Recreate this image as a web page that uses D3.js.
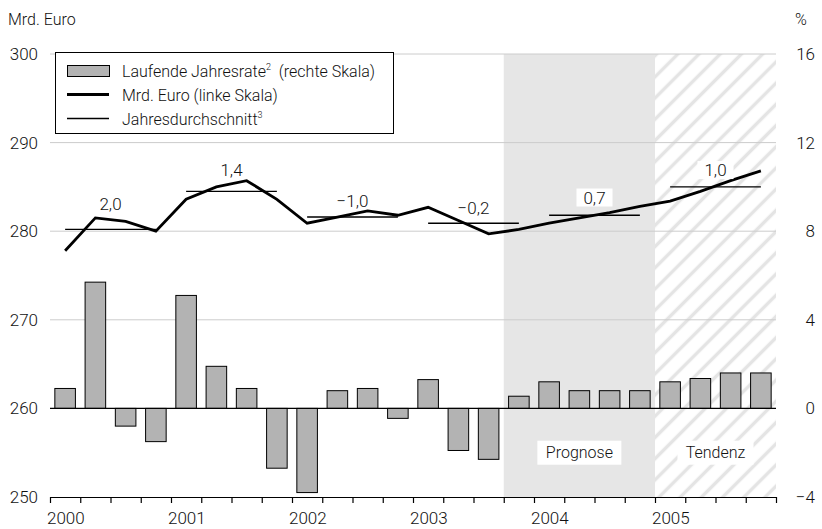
<!DOCTYPE html>
<html>
<head>
<meta charset="utf-8">
<script src="https://cdn.jsdelivr.net/npm/d3@7"></script>
<style>
  body { margin: 0; background: #fff; }
  svg text { font-family: Roboto, "Noto Sans", sans-serif; font-weight: 300; fill: #111; }
</style>
</head>
<body>
<svg width="822" height="529"></svg>
<script>
"use strict";

// Quartale 2000 bis 2005
const years = [2000, 2001, 2002, 2003, 2004, 2005];
const quarters = years.flatMap(y => [1, 2, 3, 4].map(q => `${y}Q${q}`));

// laufende Jahresrate in % (rechte Skala)
const rate = [0.9, 5.7, -0.8, -1.5,
              5.1, 1.9, 0.9, -2.7,
              -3.8, 0.8, 0.9, -0.45,
              1.3, -1.9, -2.3, 0.55,
              1.2, 0.8, 0.8, 0.8,
              1.2, 1.35, 1.6, 1.6];

// Mrd. Euro (linke Skala)
const level = [277.8, 281.5, 281.1, 280.0,
               283.6, 285.0, 285.7, 283.6,
               280.9, 281.6, 282.3, 281.8,
               282.7, 281.2, 279.7, 280.2,
               280.9, 281.5, 282.1, 282.8,
               283.4, 284.5, 285.7, 286.8];

// Jahresdurchschnitt und Veraenderung
const yearAvg = [280.2, 284.5, 281.6, 280.9, 281.8, 285.0];
const yearChange = ['2,0', '1,4', '\u22121,0', '\u22120,2', '0,7', '1,0'];
const labelLevel = [283.05, 286.9, 283.4, 282.6, 283.8, 286.9];

const leftTicks = [250, 260, 270, 280, 290, 300];
const rightTicks = [-4, 0, 4, 8, 12, 16];

const svg = d3.select('svg');
const plotLeft = 50, plotRight = 776, plotTop = 54, plotBottom = 497;

const x = d3.scaleLinear().domain([0, quarters.length]).range([plotLeft, plotRight]);
const yL = d3.scaleLinear().domain([250, 300]).range([plotBottom, plotTop]);
const yR = d3.scaleLinear().domain([-4, 16]).range([plotBottom, plotTop]);
const step = x(1) - x(0);

const defs = svg.append('defs');
defs.append('pattern')
    .attr('id', 'hatch')
    .attr('patternUnits', 'userSpaceOnUse')
    .attr('width', 15).attr('height', 15)
    .attr('patternTransform', 'rotate(45)')
    .append('line')
    .attr('x1', 7.5).attr('x2', 7.5).attr('y1', 0).attr('y2', 15)
    .attr('stroke', '#e4e4e4').attr('stroke-width', 3.5);

// Prognose / Tendenz Hintergrund
const progStart = quarters.indexOf('2003Q4');
const tendStart = quarters.indexOf('2005Q1');
svg.append('rect')
    .attr('x', x(progStart)).attr('y', plotTop)
    .attr('width', x(tendStart) - x(progStart)).attr('height', plotBottom - plotTop)
    .attr('fill', '#e6e6e6');
svg.append('rect')
    .attr('x', x(tendStart)).attr('y', plotTop)
    .attr('width', x(quarters.length) - x(tendStart)).attr('height', plotBottom - plotTop)
    .attr('fill', 'url(#hatch)');

// Gitterlinien
svg.append('g')
    .selectAll('line')
    .data(leftTicks.filter(d => d > 260))
    .join('line')
    .attr('x1', plotLeft).attr('x2', plotRight)
    .attr('y1', d => yL(d)).attr('y2', d => yL(d))
    .attr('stroke', '#cccccc').attr('stroke-width', 1);

// Achsen
const axisLeft = svg.append('g')
    .attr('transform', `translate(${plotLeft},0)`)
    .call(d3.axisLeft(yL).tickValues(leftTicks).tickSize(0).tickPadding(12));
axisLeft.select('.domain').remove();
axisLeft.selectAll('text').attr('font-size', 17);

const axisRight = svg.append('g')
    .attr('transform', `translate(${plotRight},0)`)
    .call(d3.axisRight(yR).tickValues(rightTicks).tickSize(0)
        .tickFormat(d => d < 0 ? '\u2212' + Math.abs(d) : d));
axisRight.select('.domain').remove();
axisRight.selectAll('text').attr('font-size', 17).attr('text-anchor', 'end').attr('x', 39);

svg.append('text').attr('x', 8).attr('y', 25).attr('font-size', 16).text('Mrd. Euro');
svg.append('text').attr('x', 795).attr('y', 25).attr('font-size', 16).text('%');

// Balken
svg.append('g')
    .selectAll('rect')
    .data(rate)
    .join('rect')
    .attr('x', (d, i) => x(i) + step * 0.16)
    .attr('width', step * 0.68)
    .attr('y', d => yR(Math.max(0, d)))
    .attr('height', d => Math.abs(yR(d) - yR(0)))
    .attr('fill', '#b3b3b3')
    .attr('stroke', '#000').attr('stroke-width', 1);

// Nulllinie
svg.append('line')
    .attr('x1', plotLeft).attr('x2', plotRight)
    .attr('y1', yR(0)).attr('y2', yR(0))
    .attr('stroke', '#000').attr('stroke-width', 1.2);

// x-Achse
const axisBottom = svg.append('g')
    .attr('transform', `translate(0,${plotBottom})`)
    .call(d3.axisBottom(x).tickValues(d3.range(quarters.length + 1)).tickSize(6).tickSizeOuter(0).tickFormat(''));
axisBottom.select('.domain').attr('stroke', '#000').attr('stroke-width', 1.2);
axisBottom.selectAll('.tick line').attr('stroke-width', 1.2);

svg.append('g')
    .selectAll('text')
    .data(years)
    .join('text')
    .attr('x', (d, i) => x(i * 4) - 3)
    .attr('y', 524)
    .attr('font-size', 17)
    .text(d => d);

// Jahresdurchschnitt
svg.append('g')
    .selectAll('line')
    .data(yearAvg)
    .join('line')
    .attr('x1', (d, i) => x(i * 4 + 0.5))
    .attr('x2', (d, i) => x(i * 4 + 3.5))
    .attr('y1', d => yL(d)).attr('y2', d => yL(d))
    .attr('stroke', '#000').attr('stroke-width', 1.3);

// Mrd. Euro Linie
svg.append('path')
    .datum(level)
    .attr('d', d3.line().x((d, i) => x(i + 0.5)).y(d => yL(d)))
    .attr('fill', 'none')
    .attr('stroke', '#000').attr('stroke-width', 2.8)
    .attr('stroke-linejoin', 'miter');

// Veraenderungsraten
const firstForecastYear = 2004;
const labels = svg.append('g')
    .selectAll('g')
    .data(yearChange)
    .join('g')
    .attr('transform', (d, i) => `translate(${x(i * 4 + 2)},${yL(labelLevel[i])})`);
labels.filter((d, i) => years[i] >= firstForecastYear)
    .append('rect')
    .attr('x', -18).attr('y', -9).attr('width', 36).attr('height', 18)
    .attr('fill', '#fff');
labels.append('text')
    .attr('text-anchor', 'middle')
    .attr('dy', '0.36em')
    .attr('font-size', 17)
    .text(d => d);

// Prognose / Tendenz Beschriftung
const areaNotes = [
    { text: 'Prognose', from: progStart, to: tendStart },
    { text: 'Tendenz', from: tendStart, to: quarters.length }
];
const notes = svg.append('g')
    .selectAll('g')
    .data(areaNotes)
    .join('g')
    .attr('transform', d => `translate(${(x(d.from) + x(d.to)) / 2},${yR(-2)})`);
notes.append('rect')
    .attr('x', d => d.text === 'Prognose' ? -42 : -38)
    .attr('width', d => d.text === 'Prognose' ? 84 : 76)
    .attr('y', -12).attr('height', 24)
    .attr('fill', '#fff');
notes.append('text')
    .attr('text-anchor', 'middle')
    .attr('dy', '0.36em')
    .attr('font-size', 16)
    .text(d => d.text);

// Legende
const legend = svg.append('g');
legend.append('rect')
    .attr('x', 55.5).attr('y', 52.5).attr('width', 338).attr('height', 81)
    .attr('fill', '#fff').attr('stroke', '#000').attr('stroke-width', 1);
legend.append('rect')
    .attr('x', 67.5).attr('y', 65.5).attr('width', 42).attr('height', 11)
    .attr('fill', '#b3b3b3').attr('stroke', '#000').attr('stroke-width', 1);
legend.append('line')
    .attr('x1', 67).attr('x2', 109).attr('y1', 94.5).attr('y2', 94.5)
    .attr('stroke', '#000').attr('stroke-width', 2.8);
legend.append('line')
    .attr('x1', 67).attr('x2', 109).attr('y1', 118.5).attr('y2', 118.5)
    .attr('stroke', '#000').attr('stroke-width', 1.3);

const t1 = legend.append('text').attr('x', 122).attr('y', 77).attr('font-size', 16);
t1.append('tspan').text('Laufende Jahresrate');
t1.append('tspan').attr('font-size', 9).attr('dy', -7).text('2');
t1.append('tspan').attr('dy', 7).text('\u00a0 (rechte Skala)');
legend.append('text').attr('x', 122).attr('y', 101).attr('font-size', 16).text('Mrd. Euro (linke Skala)');
const t3 = legend.append('text').attr('x', 122).attr('y', 125).attr('font-size', 16);
t3.append('tspan').text('Jahresdurchschnitt');
t3.append('tspan').attr('font-size', 9).attr('dy', -7).text('3');
</script>
</body>
</html>
